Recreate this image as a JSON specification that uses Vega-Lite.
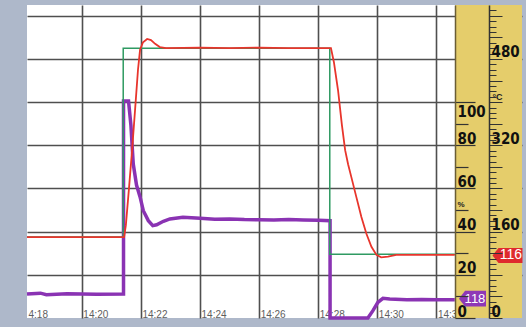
{
  "$schema": "https://vega.github.io/schema/vega-lite/v6.json",
  "width": 495,
  "height": 313,
  "autosize": {"type": "none"},
  "padding": {"left": 27, "top": 5, "right": 4, "bottom": 9},
  "background": "#aeb8ca",
  "config": {
    "view": {"fill": "#ffffff", "stroke": null},
    "axis": {"labelFont": "Liberation Sans", "titleFont": "Liberation Sans"}
  },
  "datasets": {
    "red": [
      {"t": 18.144, "temp": 150}, {"t": 19.5, "temp": 150}, {"t": 21.0, "temp": 150}, {"t": 21.43, "temp": 150},
      {"t": 21.49, "temp": 172}, {"t": 21.59, "temp": 237}, {"t": 21.70, "temp": 311}, {"t": 21.80, "temp": 385},
      {"t": 21.90, "temp": 460}, {"t": 21.97, "temp": 497}, {"t": 22.07, "temp": 511}, {"t": 22.21, "temp": 517},
      {"t": 22.34, "temp": 515}, {"t": 22.48, "temp": 508}, {"t": 22.64, "temp": 502}, {"t": 22.85, "temp": 500},
      {"t": 24.0, "temp": 501}, {"t": 25.0, "temp": 500}, {"t": 26.0, "temp": 501}, {"t": 27.0, "temp": 500},
      {"t": 28.0, "temp": 500}, {"t": 28.43, "temp": 500}, {"t": 28.53, "temp": 474}, {"t": 28.67, "temp": 422},
      {"t": 28.80, "temp": 358}, {"t": 28.91, "temp": 311}, {"t": 29.01, "temp": 285}, {"t": 29.12, "temp": 261},
      {"t": 29.29, "temp": 224}, {"t": 29.46, "temp": 187}, {"t": 29.63, "temp": 156}, {"t": 29.80, "temp": 132},
      {"t": 29.97, "temp": 117}, {"t": 30.13, "temp": 112.5}, {"t": 30.36, "temp": 113.6}, {"t": 30.64, "temp": 117},
      {"t": 31.5, "temp": 117}, {"t": 32.62, "temp": 117}
    ],
    "green": [
      {"t": 18.144, "temp": 150}, {"t": 21.40, "temp": 150}, {"t": 21.40, "temp": 500},
      {"t": 28.39, "temp": 500}, {"t": 28.39, "temp": 118}, {"t": 32.62, "temp": 118}
    ],
    "purple": [
      {"t": 18.144, "pct": 11.1}, {"t": 18.6, "pct": 11.5}, {"t": 18.8, "pct": 10.8}, {"t": 19.5, "pct": 11.2},
      {"t": 20.5, "pct": 11.0}, {"t": 21.41, "pct": 11.1}, {"t": 21.41, "pct": 100.5}, {"t": 21.58, "pct": 100.5},
      {"t": 21.66, "pct": 89.4}, {"t": 21.74, "pct": 71.3}, {"t": 21.85, "pct": 61.6}, {"t": 21.97, "pct": 56.1},
      {"t": 22.08, "pct": 49.7}, {"t": 22.25, "pct": 45.1}, {"t": 22.40, "pct": 42.8}, {"t": 22.53, "pct": 43.2},
      {"t": 22.76, "pct": 44.8}, {"t": 22.98, "pct": 45.9}, {"t": 23.42, "pct": 46.7}, {"t": 24.0, "pct": 46.2},
      {"t": 24.5, "pct": 45.8}, {"t": 25.0, "pct": 45.9}, {"t": 25.5, "pct": 45.6}, {"t": 26.0, "pct": 45.5},
      {"t": 26.5, "pct": 45.4}, {"t": 27.0, "pct": 45.6}, {"t": 27.5, "pct": 45.4}, {"t": 28.0, "pct": 45.3},
      {"t": 28.40, "pct": 45.1}, {"t": 28.40, "pct": 0}, {"t": 29.68, "pct": 0}, {"t": 29.85, "pct": 3.4},
      {"t": 30.02, "pct": 7.3}, {"t": 30.19, "pct": 9.1}, {"t": 30.42, "pct": 8.8}, {"t": 31.0, "pct": 8.5},
      {"t": 31.5, "pct": 8.6}, {"t": 32.0, "pct": 8.5}, {"t": 32.62, "pct": 8.5}
    ],
    "tagTemp": [{"t": 32.6, "temp": 116, "label": "116"}],
    "tagPct": [{"t": 32.6, "pct": 8.5, "label": "118"}]
  },
  "layer": [
    {
      "data": {"values": [{"panel": "scale"}]},
      "mark": {"type": "rect", "color": "#e5cd6b"},
      "encoding": {
        "x": {
          "datum": 32.628, "type": "quantitative",
          "scale": {"domain": [18.144, 34.895], "nice": false, "zero": false},
          "axis": {
            "title": null,
            "values": [18.144, 19, 20, 21, 22, 23, 24, 25, 26, 27, 28, 29, 30, 31, 32],
            "grid": true, "gridColor": "#4f4f4f", "gridWidth": 1.6,
            "gridOpacity": {"condition": {"test": "datum.value < 19", "value": 0}, "value": 1},
            "domain": false, "ticks": false,
            "labelExpr": "datum.value < 19 ? '4:18' : (datum.value % 2 == 0 ? '14:' + datum.value : '')",
            "labelAlign": "left", "labelFlush": false, "labelOffset": 1, "labelBaseline": "alphabetic",
            "labelPadding": -1, "labelFontSize": 10, "labelColor": "#5e5e5e", "labelOverlap": false, "labelBound": false
          }
        },
        "x2": {"value": "width"}
      }
    },
    {
      "data": {"name": "purple"},
      "mark": {"type": "line", "color": "#8a33b3", "strokeWidth": 3.5},
      "encoding": {
        "x": {"field": "t", "type": "quantitative", "scale": {"domain": [18.144, 34.895], "nice": false, "zero": false}},
        "y": {
          "field": "pct", "type": "quantitative", "scale": {"domain": [0, 145], "nice": false},
          "axis": {"orient": "left", "offset": 0, "values": [20, 40, 60, 80, 100, 120, 140], "grid": true,
                   "gridColor": "#4f4f4f", "gridWidth": 1.6, "labels": false, "ticks": false, "domain": false, "title": null}
        }
      }
    },
    {
      "data": {"name": "purple"},
      "mark": {"type": "line", "opacity": 0},
      "encoding": {
        "x": {"field": "t", "type": "quantitative", "scale": {"domain": [18.144, 34.895], "nice": false, "zero": false}},
        "y": {
          "field": "pct", "type": "quantitative", "scale": {"domain": [0, 145], "nice": false},
          "axis": {
            "orient": "right", "offset": -67, "zindex": 1, "grid": false,
            "values": [0, 10, 20, 30, 40, 50, 60, 70, 80, 90, 100],
            "domain": true, "domainColor": "#6a5d35", "domainWidth": 1.5,
            "ticks": true, "tickColor": "#333333", "tickWidth": 1.2,
            "tickSize": {"condition": {"test": "datum.value % 20 == 0", "value": 20}, "value": 13},
            "labelExpr": "datum.value % 20 == 0 ? datum.value : ''",
            "labelAlign": "left", "labelPadding": -18, "labelBaseline": "alphabetic",
            "labelOffset": {"condition": {"test": "datum.value == 100", "value": 14}, "value": -2},
            "labelFont": "Liberation Sans Narrow, DejaVu Sans Condensed, Liberation Sans",
            "labelFontSize": 15, "labelFontWeight": "bold", "labelColor": "#111111", "labelOverlap": false, "labelBound": false, "labelFlush": false,
            "title": "%", "titleAngle": 0, "titleX": 2, "titleY": 199, "titleAlign": "left", "titleBaseline": "middle",
            "titleFontSize": 8, "titleFontWeight": "bold", "titleColor": "#222222"
          }
        }
      }
    },
    {
      "data": {"name": "green"},
      "mark": {"type": "line", "color": "#2f9a62", "strokeWidth": 1.5},
      "encoding": {
        "x": {"field": "t", "type": "quantitative", "scale": {"domain": [18.144, 34.895], "nice": false, "zero": false}},
        "y": {
          "field": "temp", "type": "quantitative", "scale": {"domain": [0, 580], "nice": false},
          "axis": {
            "orient": "right", "offset": -33, "zindex": 1, "grid": false, "title": null,
            "values": [0,10,20,30,40,50,60,70,80,90,100,110,120,130,140,150,160,170,180,190,200,210,220,230,240,250,260,270,280,290,300,310,320,330,340,350,360,370,380,390,400,410,420,430,440,450,460,470,480,490,500,510,520,530,540,550,560,570],
            "labels": false, "domain": true, "domainColor": "#333333", "domainWidth": 1.5,
            "ticks": true, "tickColor": "#333333", "tickWidth": 1,
            "tickSize": {"condition": {"test": "datum.value % 40 == 0", "value": 13}, "value": 7}
          }
        }
      }
    },
    {
      "data": {"name": "red"},
      "mark": {"type": "line", "color": "#e8352c", "strokeWidth": 1.8},
      "encoding": {
        "x": {"field": "t", "type": "quantitative", "scale": {"domain": [18.144, 34.895], "nice": false, "zero": false}},
        "y": {
          "field": "temp", "type": "quantitative", "scale": {"domain": [0, 580], "nice": false},
          "axis": {
            "orient": "right", "offset": -33, "zindex": 1, "grid": false,
            "values": [0, 160, 320, 480], "ticks": false, "domain": false,
            "labelAlign": "left", "labelPadding": 2, "labelBaseline": "alphabetic", "labelOffset": -2,
            "labelFont": "Liberation Sans Narrow, DejaVu Sans Condensed, Liberation Sans",
            "labelFontSize": 15, "labelFontWeight": "bold", "labelColor": "#111111", "labelOverlap": false, "labelBound": false, "labelFlush": false,
            "title": "°C", "titleAngle": 0, "titleX": 3, "titleY": 91, "titleAlign": "left", "titleBaseline": "middle",
            "titleFontSize": 9, "titleFontWeight": "bold", "titleColor": "#222222"
          }
        }
      }
    },
    {
      "data": {"name": "tagTemp"},
      "mark": {"type": "point", "shape": "M-1,0L-0.6,-0.5L1,-0.5L1,0.5L-0.6,0.5Z", "size": 900, "filled": true, "color": "#df2a2e", "opacity": 1, "strokeWidth": 0, "xOffset": 53.3},
      "encoding": {
        "x": {"field": "t", "type": "quantitative", "scale": {"domain": [18.144, 34.895], "nice": false, "zero": false}},
        "y": {"field": "temp", "type": "quantitative", "scale": {"domain": [0, 580], "nice": false}, "axis": null}
      }
    },
    {
      "data": {"name": "tagTemp"},
      "mark": {"type": "text", "color": "#ffffff", "fontSize": 14, "font": "Liberation Sans", "dx": 56.8, "align": "center", "baseline": "middle"},
      "encoding": {
        "x": {"field": "t", "type": "quantitative", "scale": {"domain": [18.144, 34.895], "nice": false, "zero": false}},
        "y": {"field": "temp", "type": "quantitative", "scale": {"domain": [0, 580], "nice": false}, "axis": null},
        "text": {"field": "label"}
      }
    },
    {
      "data": {"name": "tagPct"},
      "mark": {"type": "point", "shape": "M-1,0L-0.55,-0.59L1,-0.59L1,0.59L-0.55,0.59Z", "size": 729, "filled": true, "color": "#8e38b6", "opacity": 1, "strokeWidth": 0, "xOffset": 18.3, "yOffset": -1},
      "encoding": {
        "x": {"field": "t", "type": "quantitative", "scale": {"domain": [18.144, 34.895], "nice": false, "zero": false}},
        "y": {"field": "pct", "type": "quantitative", "scale": {"domain": [0, 145], "nice": false}, "axis": null}
      }
    },
    {
      "data": {"name": "tagPct"},
      "mark": {"type": "text", "color": "#ffffff", "fontSize": 13, "font": "Liberation Sans", "dx": 20.8, "dy": -1, "align": "center", "baseline": "middle"},
      "encoding": {
        "x": {"field": "t", "type": "quantitative", "scale": {"domain": [18.144, 34.895], "nice": false, "zero": false}},
        "y": {"field": "pct", "type": "quantitative", "scale": {"domain": [0, 145], "nice": false}, "axis": null},
        "text": {"field": "label"}
      }
    }
  ],
  "resolve": {"scale": {"y": "independent"}}
}
